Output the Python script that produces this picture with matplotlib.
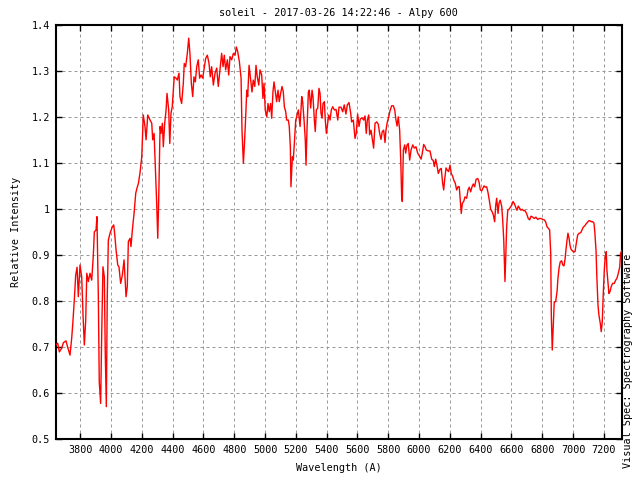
import matplotlib
matplotlib.use("Agg")
import matplotlib.pyplot as plt

title = "soleil - 2017-03-26 14:22:46 - Alpy 600"
xlabel = "Wavelength (A)"
ylabel = "Relative Intensity"
side_text = "Visual Spec: Spectrography Software"

xticks = list(range(3800, 7201, 200))
yticks = [0.5, 0.6, 0.7, 0.8, 0.9, 1.0, 1.1, 1.2, 1.3, 1.4]
ytick_labels = ["0.5", "0.6", "0.7", "0.8", "0.9", "1", "1.1", "1.2", "1.3", "1.4"]

wavelength = [
    3642, 3653, 3664, 3679, 3690, 3707, 3718, 3733, 3744, 3751, 3761, 3770, 3779, 3787, 3798,
    3809, 3818, 3826, 3835, 3842, 3852, 3863, 3874, 3884, 3891, 3902, 3908, 3917, 3923, 3932,
    3939, 3947, 3956, 3962, 3969, 3975, 3982, 3993, 4008, 4017, 4025, 4032, 4043, 4051, 4062,
    4073, 4084, 4090, 4097, 4105, 4112, 4123, 4129, 4138, 4149, 4160, 4168, 4177, 4188, 4199,
    4209, 4220, 4227, 4238, 4253, 4264, 4270, 4279, 4287, 4296, 4303, 4309, 4318, 4324, 4333,
    4339, 4348, 4357, 4363, 4374, 4381, 4389, 4397, 4410, 4422, 4430, 4441, 4447, 4458, 4469,
    4475, 4484, 4495, 4504, 4512, 4521, 4530, 4538, 4547, 4556, 4566, 4575, 4584, 4595, 4603,
    4614, 4625, 4636, 4644, 4653, 4664, 4675, 4686, 4696, 4707, 4718, 4727, 4735, 4744, 4755,
    4764, 4772, 4783, 4794, 4805, 4813, 4822, 4833, 4844, 4850, 4859, 4865, 4874, 4881, 4887,
    4896, 4904, 4915, 4923, 4933, 4941, 4949, 4959, 4967, 4978, 4986, 4993, 5001, 5011, 5019,
    5027, 5036, 5043, 5051, 5058, 5066, 5075, 5084, 5092, 5101, 5110, 5118, 5125, 5134, 5140,
    5151, 5157, 5164, 5168, 5177, 5183, 5190, 5199, 5205, 5216, 5227, 5238, 5244, 5253, 5261,
    5266, 5272, 5281, 5287, 5296, 5305, 5311, 5320, 5326, 5333, 5342, 5350, 5357, 5363, 5370,
    5376, 5385, 5391, 5398, 5404, 5413, 5422, 5430, 5439, 5450, 5461, 5472, 5480, 5493, 5504,
    5514, 5525, 5534, 5545, 5556, 5562, 5573, 5584, 5592, 5601, 5610, 5618, 5629, 5640, 5649,
    5657, 5664, 5673, 5679, 5688, 5696, 5705, 5714, 5725, 5735, 5744, 5753, 5761, 5770, 5779,
    5785, 5794, 5803, 5811, 5822, 5833, 5842, 5850, 5857, 5865, 5874, 5881, 5887, 5891, 5898,
    5907, 5913, 5922, 5930, 5939, 5948, 5959, 5969, 5980, 5991, 6002, 6013, 6021, 6030, 6039,
    6047, 6058, 6071, 6082, 6092, 6099, 6108, 6116, 6125, 6136, 6144, 6153, 6160, 6166, 6175,
    6183, 6192, 6201, 6209, 6218, 6227, 6235, 6244, 6253, 6261, 6268, 6274, 6281, 6290, 6298,
    6309, 6318, 6326, 6335, 6344, 6352, 6361, 6370, 6381, 6389, 6398, 6407, 6415, 6422, 6430,
    6439, 6448, 6456, 6465, 6474, 6482, 6491, 6498, 6504, 6513, 6519, 6527, 6537, 6543, 6550,
    6558, 6563, 6569, 6576, 6584, 6592, 6602, 6610, 6618, 6628, 6636, 6644, 6654, 6662, 6670,
    6679, 6688, 6698, 6709, 6718, 6727, 6738, 6748, 6759, 6770, 6781, 6792, 6803, 6813, 6822,
    6831, 6839, 6848, 6855, 6859, 6865, 6872, 6878, 6887, 6896, 6902, 6909, 6917, 6926, 6933,
    6941, 6948, 6954, 6961, 6967, 6974, 6980, 6987, 6995, 7004, 7013, 7021, 7030, 7039, 7050,
    7058, 7066, 7076, 7084, 7092, 7102, 7110, 7118, 7128, 7136, 7142, 7149, 7155, 7162, 7168,
    7177, 7183, 7190, 7196, 7203, 7209, 7216, 7220, 7227, 7233, 7240, 7248, 7257, 7268, 7277,
    7285, 7294, 7303, 7309, 7316,
]

intensity = [
    0.705, 0.709, 0.690, 0.698, 0.710, 0.714, 0.700, 0.683, 0.720, 0.751, 0.803, 0.857, 0.874, 0.810, 0.879,
    0.853, 0.767, 0.705, 0.759, 0.861, 0.843, 0.861, 0.846, 0.897, 0.951, 0.955, 0.984, 0.810, 0.625, 0.578,
    0.730, 0.875, 0.853, 0.687, 0.571, 0.810, 0.933, 0.948, 0.962, 0.966, 0.940, 0.912, 0.879, 0.875, 0.839,
    0.857, 0.890, 0.853, 0.810, 0.832, 0.930, 0.937, 0.919, 0.955, 0.991, 1.035, 1.046, 1.056, 1.080, 1.114,
    1.205, 1.180, 1.151, 1.205, 1.194, 1.187, 1.151, 1.165, 1.093, 1.013, 0.937, 1.020, 1.180, 1.165, 1.187,
    1.136, 1.187, 1.216, 1.252, 1.216, 1.143, 1.209, 1.223, 1.288, 1.285, 1.281, 1.296, 1.245, 1.230, 1.274,
    1.317, 1.310, 1.339, 1.372, 1.339, 1.274, 1.245, 1.288, 1.277, 1.310, 1.325, 1.285, 1.292, 1.285, 1.303,
    1.328, 1.335, 1.317, 1.288, 1.310, 1.270, 1.296, 1.307, 1.267, 1.303, 1.339, 1.310, 1.335, 1.303, 1.325,
    1.292, 1.332, 1.325, 1.339, 1.335, 1.353, 1.343, 1.321, 1.285, 1.172, 1.100, 1.136, 1.201, 1.259, 1.245,
    1.313, 1.288, 1.255, 1.281, 1.267, 1.313, 1.288, 1.270, 1.303, 1.292, 1.241, 1.274, 1.216, 1.201, 1.230,
    1.212, 1.230, 1.198, 1.255, 1.277, 1.256, 1.234, 1.259, 1.234, 1.252, 1.267, 1.256, 1.223, 1.212, 1.194,
    1.194, 1.180, 1.136, 1.049, 1.114, 1.107, 1.143, 1.194, 1.201, 1.216, 1.180, 1.245, 1.234, 1.194, 1.151,
    1.096, 1.172, 1.255, 1.259, 1.220, 1.259, 1.245, 1.194, 1.169, 1.216, 1.220, 1.263, 1.252, 1.209, 1.198,
    1.230, 1.234, 1.194, 1.165, 1.180, 1.205, 1.194, 1.216, 1.223, 1.216, 1.217, 1.194, 1.222, 1.222, 1.212,
    1.227, 1.207, 1.227, 1.232, 1.209, 1.190, 1.194, 1.154, 1.165, 1.207, 1.180, 1.196, 1.199, 1.194, 1.203,
    1.165, 1.194, 1.205, 1.162, 1.172, 1.154, 1.133, 1.187, 1.190, 1.185, 1.165, 1.152, 1.169, 1.172, 1.145,
    1.172, 1.190, 1.201, 1.214, 1.225, 1.225, 1.216, 1.194, 1.181, 1.201, 1.172, 1.107, 1.027, 1.017, 1.129,
    1.140, 1.122, 1.140, 1.143, 1.107, 1.129, 1.140, 1.133, 1.136, 1.122, 1.116, 1.109, 1.122, 1.141, 1.136,
    1.129, 1.127, 1.127, 1.109, 1.106, 1.093, 1.109, 1.096, 1.078, 1.087, 1.089, 1.057, 1.042, 1.064, 1.090,
    1.085, 1.082, 1.096, 1.078, 1.072, 1.062, 1.057, 1.042, 1.049, 1.049, 1.017, 0.991, 1.013, 1.017, 1.027,
    1.024, 1.042, 1.048, 1.038, 1.049, 1.055, 1.049, 1.065, 1.067, 1.060, 1.042, 1.040, 1.046, 1.051, 1.048,
    1.049, 1.036, 1.020, 1.000, 0.995, 0.988, 0.973, 1.009, 1.024, 0.991, 1.013, 1.020, 1.006, 0.977, 0.933,
    0.843, 0.900, 0.962, 0.998, 1.000, 1.004, 1.009, 1.017, 1.013, 1.004, 0.998, 1.007, 1.002, 0.998, 1.000,
    0.997, 0.997, 0.991, 0.980, 0.977, 0.985, 0.983, 0.980, 0.983, 0.978, 0.980, 0.980, 0.978, 0.977, 0.973,
    0.962, 0.959, 0.955, 0.904, 0.767, 0.694, 0.748, 0.799, 0.799, 0.821, 0.850, 0.872, 0.886, 0.888, 0.879,
    0.877, 0.891, 0.912, 0.933, 0.948, 0.937, 0.922, 0.913, 0.910, 0.907, 0.908, 0.926, 0.944, 0.948, 0.949,
    0.955, 0.961, 0.964, 0.968, 0.971, 0.975, 0.975, 0.973, 0.973, 0.970, 0.948, 0.912, 0.850, 0.792, 0.770,
    0.752, 0.734, 0.756, 0.814, 0.868, 0.897, 0.908, 0.868, 0.839, 0.817, 0.821, 0.832, 0.839, 0.839, 0.846,
    0.850, 0.861, 0.874, 0.904, 0.910,
]

plt.rcParams['font.family'] = ['DejaVu Sans Mono']
fs = 7.3

fig = plt.figure(figsize=(6.4, 4.8), dpi=100)
ax = fig.add_axes([0.087, 0.0848, 0.8844, 0.8625])

ax.plot(wavelength, intensity, color='#ff0000', lw=1.0, zorder=3)

ax.set_xlim(3640, 7316)
ax.set_ylim(0.5, 1.4)
ax.set_xticks(xticks)
ax.set_xticklabels([str(t) for t in xticks], fontsize=fs)
ax.set_yticks(yticks)
ax.set_yticklabels(ytick_labels, fontsize=fs)
ax.tick_params(direction='in', length=4, width=1, top=True, right=True, pad=4)

ax.grid(True, color='#999999', linestyle=(0, (3, 3)), linewidth=0.72)
for s in ax.spines.values():
    s.set_linewidth(1.5)

ax.set_title(title, fontsize=fs, pad=7)
ax.set_xlabel(xlabel, fontsize=fs, labelpad=6)
ax.set_ylabel(ylabel, fontsize=fs, labelpad=8)
fig.text(0.981, 0.025, side_text, rotation=90, fontsize=fs, ha='center', va='bottom')

fig.savefig('out.png', dpi=100)
